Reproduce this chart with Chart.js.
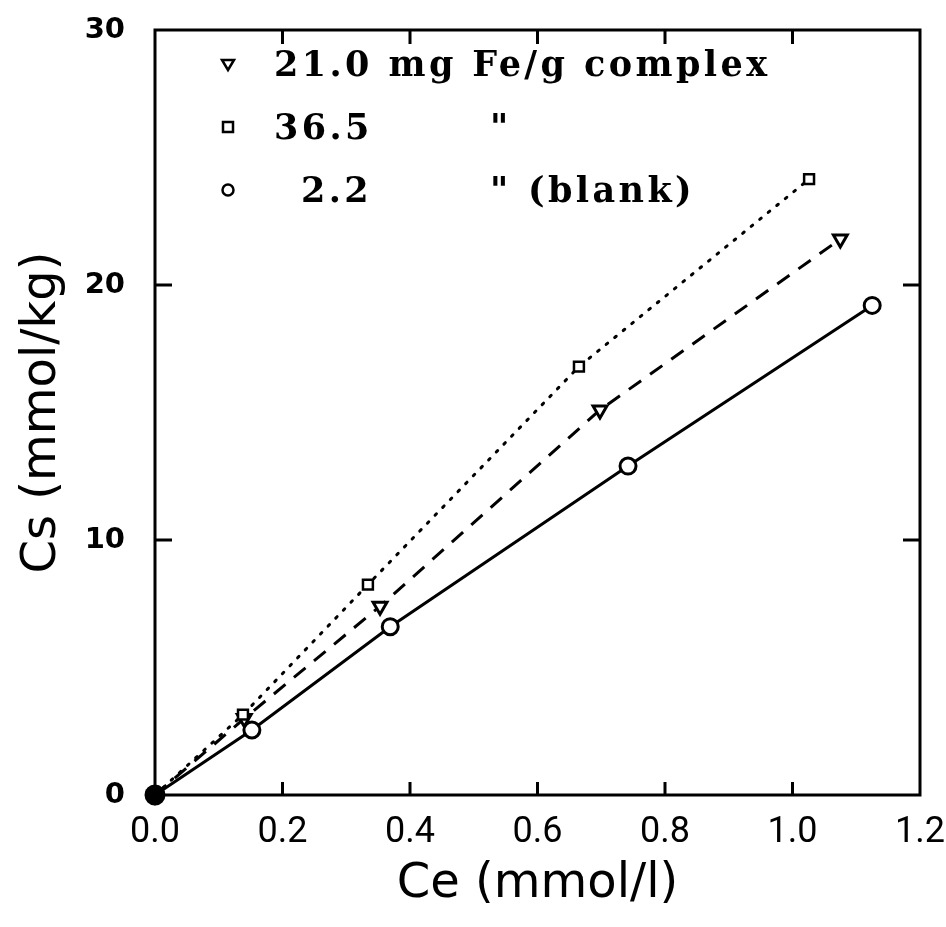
<!DOCTYPE html>
<html>
<head>
<meta charset="utf-8">
<script src="https://cdn.jsdelivr.net/npm/chart.js@4"></script>
<style>
  html, body { margin: 0; padding: 0; background: #fff; }
  #wrap { width: 946px; height: 927px; }
</style>
</head>
<body>
<div id="wrap"><canvas id="isotherm"></canvas></div>
<script>
// values
const blankX = [0, 0.152, 0.369, 0.742, 1.125];
const blankY = [0, 2.55, 6.6, 12.9, 19.2];
const fe21X = [0, 0.14, 0.353, 0.698, 1.075];
const fe21Y = [0, 3.0, 7.4, 15.1, 21.8];
const fe36X = [0, 0.138, 0.334, 0.665, 1.026];
const fe36Y = [0, 3.15, 8.25, 16.8, 24.15];

const xTicks = [0, 0.2, 0.4, 0.6, 0.8, 1.0, 1.2];
const yTicks = [0, 10, 20, 30];
const legendRows = [
  { marker: 'triangle', parts: [['21.0 mg Fe/g complex', 0]] },
  { marker: 'rect', parts: [['36.5', 0], ['"', 216]] },
  { marker: 'circle', parts: [['2.2', 27], ['"', 216], ['(blank)', 254]] },
];

const toPoints = (xs, ys) => xs.map((x, i) => ({ x: x, y: ys[i] }));
const originFill = n => Array.from({ length: n }, (_, i) => i === 0 ? '#000' : '#fff');

// frame, inward ticks and the typed legend
const frame = {
  id: 'frame',
  afterDraw(chart) {
    const { ctx, chartArea: a, scales } = chart;
    ctx.save();
    ctx.strokeStyle = '#000';
    ctx.lineWidth = 3;
    ctx.strokeRect(a.left, a.top, a.right - a.left, a.bottom - a.top);
    ctx.beginPath();
    xTicks.slice(1, -1).forEach(v => {
      const px = scales.x.getPixelForValue(v);
      ctx.moveTo(px, a.bottom); ctx.lineTo(px, a.bottom - 13);
      ctx.moveTo(px, a.top); ctx.lineTo(px, a.top + 14);
    });
    yTicks.slice(1, -1).forEach(v => {
      const py = scales.y.getPixelForValue(v);
      ctx.moveTo(a.left, py); ctx.lineTo(a.left + 17, py);
      ctx.moveTo(a.right, py); ctx.lineTo(a.right - 17, py);
    });
    ctx.stroke();

    ctx.font = 'bold 35px "DejaVu Serif"';
    ctx.fillStyle = '#000';
    ctx.textBaseline = 'alphabetic';
    const full = legendRows[0].parts[0][0];
    const w = ctx.measureText(full).width;
    ctx.letterSpacing = Math.max(0, (493 - w) / (full.length - 1)) + 'px';
    const textX = 274, markX = 228;
    const baseY = [76, 139, 202];
    legendRows.forEach((row, i) => {
      const b = baseY[i];
      row.parts.forEach(([s, dx]) => ctx.fillText(s, textX + dx, b));
      const y = b - 12;
      ctx.lineWidth = 2.5;
      ctx.fillStyle = '#fff';
      ctx.beginPath();
      if (row.marker === 'triangle') {
        ctx.moveTo(markX - 6, y - 4); ctx.lineTo(markX + 6, y - 4); ctx.lineTo(markX, y + 6); ctx.closePath();
      } else if (row.marker === 'rect') {
        ctx.rect(markX - 5, y - 5, 10, 10);
      } else {
        ctx.arc(markX, y, 5.5, 0, Math.PI * 2);
      }
      ctx.fill(); ctx.stroke();
      ctx.fillStyle = '#000';
    });
    ctx.restore();
  }
};

new Chart(document.getElementById('isotherm'), {
  type: 'scatter',
  data: {
    datasets: [
      {
        label: '36.5',
        data: toPoints(fe36X, fe36Y),
        showLine: true,
        clip: false,
        borderColor: '#000',
        borderWidth: 3,
        borderDash: [2, 9],
        borderCapStyle: 'round',
        pointStyle: 'rect',
        pointRadius: 7,
        pointBorderWidth: 2.5,
        pointBorderColor: '#000',
        pointBackgroundColor: originFill(fe36X.length),
      },
      {
        label: '21.0 mg Fe/g complex',
        data: toPoints(fe21X, fe21Y),
        showLine: true,
        clip: false,
        borderColor: '#000',
        borderWidth: 3,
        borderDash: [15, 11],
        pointStyle: 'triangle',
        rotation: 180,
        pointRadius: 8,
        pointBorderWidth: 3,
        pointBorderColor: '#000',
        pointBackgroundColor: originFill(fe21X.length),
      },
      {
        label: '2.2 (blank)',
        data: toPoints(blankX, blankY),
        showLine: true,
        clip: false,
        borderColor: '#000',
        borderWidth: 3,
        pointStyle: 'circle',
        pointRadius: [9, 8, 8, 8, 8],
        pointBorderWidth: 3,
        pointBorderColor: '#000',
        pointBackgroundColor: originFill(blankX.length),
      },
    ],
  },
  options: {
    responsive: true,
    maintainAspectRatio: false,
    animation: false,
    layout: { padding: { top: 30, right: 26, left: 0, bottom: 0 } },
    plugins: { legend: { display: false }, tooltip: { enabled: false } },
    scales: {
      x: {
        type: 'linear',
        min: 0,
        max: 1.2,
        afterBuildTicks: s => { s.ticks = xTicks.map(v => ({ value: v })); },
        afterFit: s => { s.height = 132; s.paddingLeft = 0; s.paddingRight = 0; },
        grid: { display: false, drawTicks: false },
        border: { display: false },
        ticks: {
          color: '#000',
          padding: 16,
          font: { family: '"Liberation Sans Narrow", Roboto, sans-serif', size: 36 },
          callback: v => v.toFixed(1),
        },
        title: {
          display: true,
          text: 'Ce (mmol/l)',
          color: '#000',
          padding: { top: 0, bottom: 14 },
          font: { family: '"DejaVu Sans", sans-serif', size: 48 },
        },
      },
      y: {
        type: 'linear',
        min: 0,
        max: 30,
        afterBuildTicks: s => { s.ticks = yTicks.map(v => ({ value: v })); },
        afterFit: s => { s.width = 155; s.paddingTop = 0; s.paddingBottom = 0; },
        grid: { display: false, drawTicks: false },
        border: { display: false },
        ticks: {
          color: '#000',
          padding: 30,
          font: { family: '"DejaVu Sans", sans-serif', size: 29, weight: 'bold' },
        },
        title: {
          display: true,
          text: 'Cs (mmol/kg)',
          color: '#000',
          padding: { top: 14, bottom: 0 },
          font: { family: '"DejaVu Sans", sans-serif', size: 48 },
        },
      },
    },
  },
  plugins: [frame],
});
</script>
</body>
</html>
